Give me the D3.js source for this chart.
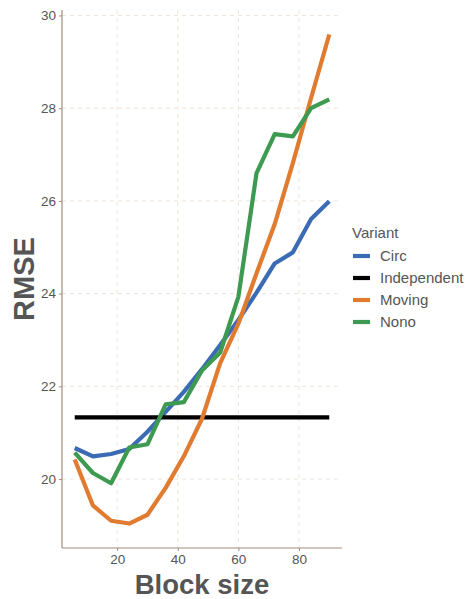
<!DOCTYPE html>
<html><head><meta charset="utf-8">
<script src="https://cdn.jsdelivr.net/npm/d3@7"></script>
<style>body{margin:0;background:#fff}svg{display:block}</style>
</head><body>
<script>
const blockSize = [6,12,18,24,30,36,42,48,54,60,66,72,78,84,90];
const circ        = [20.67,20.49,20.54,20.65,21.02,21.45,21.88,22.37,22.89,23.43,24.02,24.65,24.89,25.61,25.99];
const independent = [21.33,21.33,21.33,21.33,21.33,21.33,21.33,21.33,21.33,21.33,21.33,21.33,21.33,21.33,21.33];
const moving      = [20.42,19.43,19.10,19.04,19.23,19.81,20.49,21.30,22.50,23.35,24.44,25.50,26.82,28.22,29.59];
const nono        = [20.57,20.13,19.91,20.68,20.75,21.61,21.66,22.34,22.73,23.93,26.60,27.44,27.39,28.00,28.19];
const variants = ["Circ","Independent","Moving","Nono"];
const colors = ["#3c6bb5","#000000","#e07b30","#3d9a50"];
const xTicks = [20,40,60,80];
const yTicks = [20,22,24,26,28,30];

const series = [circ, independent, moving, nono];
const W = 465, H = 599;
const m = {l:62, r:342, t:10, b:548};
const svg = d3.select("body").append("svg").attr("width",W).attr("height",H)
  .style("font-family","'Liberation Sans', Arial, sans-serif");

const xr = d3.extent(blockSize), xe = (xr[1]-xr[0])*0.05;
const allY = series.flat(), yr = d3.extent(allY), ye = (yr[1]-yr[0])*0.05;
const x = d3.scaleLinear().domain([xr[0]-xe, xr[1]+xe]).range([m.l, m.r]);
const y = d3.scaleLinear().domain([yr[0]-ye, yr[1]+ye]).range([m.b, m.t]);

const grid = svg.append("g");
grid.selectAll(".gx").data(xTicks).join("line")
  .attr("x1",d=>x(d)).attr("x2",d=>x(d)).attr("y1",m.t).attr("y2",m.b)
  .attr("stroke","#f0e4da").attr("stroke-width",1).attr("stroke-dasharray","4,4");
grid.selectAll(".gy").data(yTicks).join("line")
  .attr("x1",m.l).attr("x2",m.r).attr("y1",d=>y(d)).attr("y2",d=>y(d))
  .attr("stroke","#f0e4da").attr("stroke-width",1).attr("stroke-dasharray","4,4");

const line = d3.line().x((d,i)=>x(blockSize[i])).y(d=>y(d));
svg.append("g").selectAll("path").data(series).join("path")
  .attr("d",d=>line(d)).attr("fill","none")
  .attr("stroke",(d,i)=>colors[i]).attr("stroke-width",4.2)
  .attr("stroke-linejoin","round");

const axCol = "#a38d7c";
const xa = svg.append("g").attr("transform",`translate(0,${m.b})`)
  .call(d3.axisBottom(x).tickValues(xTicks).tickSize(3).tickPadding(3).tickSizeOuter(0));
const ya = svg.append("g").attr("transform",`translate(${m.l},0)`)
  .call(d3.axisLeft(y).tickValues(yTicks).tickSize(3).tickPadding(3).tickSizeOuter(0));
[xa,ya].forEach(a=>{
  a.select(".domain").attr("stroke",axCol).attr("stroke-width",1.2);
  a.selectAll(".tick line").attr("stroke",axCol);
  a.selectAll(".tick text").attr("fill","#555").style("font-size","13.5px")
   .style("font-family","'Liberation Sans', Arial, sans-serif");
});
ya.select(".domain").attr("d",`M0,${m.t}V${m.b}`);
xa.select(".domain").attr("d",`M${m.l},0H${m.r}`);

svg.append("text").attr("x",(m.l+m.r)/2).attr("y",594).attr("text-anchor","middle")
  .attr("fill","#555").style("font-size","27.5px").style("font-weight","bold").text("Block size");
svg.append("text").attr("transform",`translate(34,${(m.t+m.b)/2}) rotate(-90)`)
  .attr("text-anchor","middle").attr("fill","#555").style("font-size","29px")
  .style("font-weight","bold").text("RMSE");

const lg = svg.append("g");
lg.append("text").attr("x",352).attr("y",238).attr("fill","#555").style("font-size","15px").text("Variant");
const items = lg.selectAll(".it").data(variants).join("g")
  .attr("transform",(d,i)=>`translate(353,${256+i*22})`);
items.append("line").attr("x1",0).attr("x2",17).attr("y1",0).attr("y2",0)
  .attr("stroke",(d,i)=>colors[i]).attr("stroke-width",4.2);
items.append("text").attr("x",27).attr("y",5.2).attr("fill","#555")
  .style("font-size","15px").text(d=>d);
</script>
</body></html>
